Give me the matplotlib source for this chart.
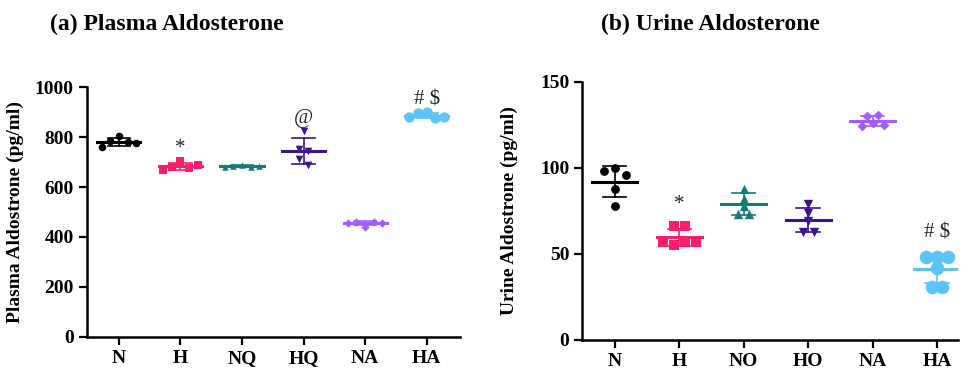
import numpy as np
import matplotlib
matplotlib.use("Agg")
import matplotlib.pyplot as plt

plt.rcParams['font.family'] = ['Liberation Serif', 'DejaVu Serif']

# Plasma aldosterone (pg/ml)
plasma_groups = ["N", "H", "NQ", "HQ", "NA", "HA"]
plasma_N = [760, 785, 805, 780, 775]
plasma_H = [670, 680, 705, 675, 690]
plasma_NQ = [680, 684, 690, 682, 686]
plasma_HQ = [825, 752, 745, 712, 690]
plasma_NA = [458, 462, 442, 460, 455]
plasma_HA = [880, 895, 900, 875, 880]
plasma_marks = {"H": "*", "HQ": "@", "HA": "# $"}

# Urine aldosterone (pg/ml)
urine_groups = ["N", "H", "NO", "HO", "NA", "HA"]
urine_N = [98, 100, 96, 88, 78]
urine_H = [66, 66, 57, 55, 57, 57]
urine_NO = [88, 82, 78, 73, 73]
urine_HO = [79, 74, 69, 63, 63]
urine_NA = [130, 131, 124.5, 126, 125]
urine_HA = [48, 48, 48, 42, 31, 31]
urine_marks = {"H": "*", "HA": "# $"}

colors = ["#000000", "#ff1c6a", "#167a76", "#3b1290", "#a25cff", "#5cc4f8"]
markers = ["o", "s", "^", "v", "D", "o"]


def swarm_offsets(vals, tol, step):
    # spread points that sit close together (order kept as given)
    vals = np.asarray(vals, float)
    order = np.argsort(vals, kind="stable")
    offs = np.zeros(len(vals))
    bins = []
    for idx in order:
        if bins and abs(vals[idx] - vals[bins[-1][-1]]) <= tol:
            bins[-1].append(idx)
        else:
            bins.append([idx])
    for b in bins:
        k = len(b)
        for j, idx in enumerate(sorted(b)):
            offs[idx] = (j - (k - 1) / 2) * step
    return offs


def draw_panel(ax, groups, data, marks, ylim, yticks, ylabel, tol, step,
               msizes, mark_off, labelpad):
    for i, vals in enumerate(data):
        vals = np.asarray(vals, float)
        m = vals.mean()
        sd = vals.std(ddof=1)
        offs = swarm_offsets(vals, tol, step)
        c = colors[i]
        ax.scatter(i + offs, vals, marker=markers[i], s=msizes[i], color=c,
                   zorder=3, linewidths=0)
        ax.plot([i - 0.35, i + 0.35], [m, m], color=c, lw=2.2, zorder=4)
        ax.plot([i, i], [m - sd, m + sd], color=c, lw=1.2, zorder=2)
        for y in (m - sd, m + sd):
            ax.plot([i - 0.18, i + 0.18], [y, y], color=c, lw=1.2, zorder=2)
        g = groups[i]
        if g in marks:
            top = max(vals.max(), m + sd)
            ax.text(i, top + mark_off, marks[g], ha="center", va="bottom",
                    fontsize=15, color="#222222")
    ax.set_ylim(*ylim)
    ax.set_yticks(yticks)
    ax.set_xticks(range(len(groups)))
    ax.set_xticklabels(groups)
    ax.set_ylabel(ylabel, fontsize=14, fontweight="bold", labelpad=labelpad)
    for s in ("top", "right"):
        ax.spines[s].set_visible(False)
    for s in ("left", "bottom"):
        ax.spines[s].set_linewidth(1.8)
    ax.tick_params(axis="both", width=1.6, length=6, labelsize=14)
    for lab in ax.get_xticklabels() + ax.get_yticklabels():
        lab.set_fontweight("bold")


fig = plt.figure(figsize=(9.66, 3.71), dpi=100)

ax1 = fig.add_axes([0.090, 0.092, 0.386, 0.673])
draw_panel(ax1, plasma_groups,
           [plasma_N, plasma_H, plasma_NQ, plasma_HQ, plasma_NA, plasma_HA],
           plasma_marks, (0, 1000), [0, 200, 400, 600, 800, 1000],
           "Plasma Aldostrone (pg/ml)", 25, 0.14,
           [30, 30, 22, 30, 18, 55], 12, 8)
ax1.set_xlim(-0.52, 5.54)

ax2 = fig.add_axes([0.603, 0.084, 0.389, 0.695])
draw_panel(ax2, urine_groups,
           [urine_N, urine_H, urine_NO, urine_HO, urine_NA, urine_HA],
           urine_marks, (0, 150), [0, 50, 100, 150],
           "Urine Aldostrone (pg/ml)", 2.5, 0.17,
           [40, 45, 45, 45, 25, 95], 7, 16)
ax2.set_xlim(-0.50, 5.33)

fig.text(0.173, 0.935, "(a) Plasma Aldosterone", ha="center", va="center",
         fontsize=17, fontweight="bold")
fig.text(0.735, 0.935, "(b) Urine Aldosterone", ha="center", va="center",
         fontsize=17, fontweight="bold")

fig.savefig("out.png", dpi=100)
